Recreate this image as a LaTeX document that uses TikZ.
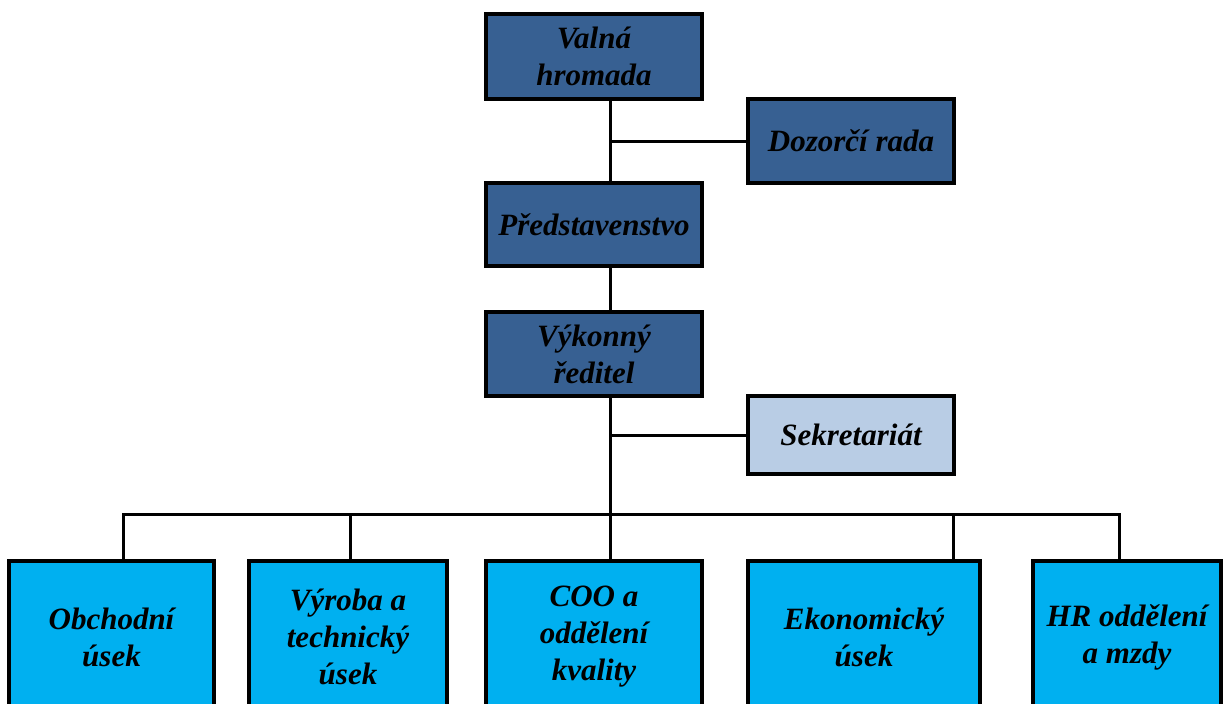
\documentclass[tikz,border=0pt]{standalone}
\usepackage{fontspec}
\setmainfont{Liberation Serif}
\definecolor{darkbox}{HTML}{376092}
\definecolor{lightbox}{HTML}{B9CDE5}
\definecolor{cyanbox}{HTML}{00B0F0}
\tikzset{
  orgbox/.style={draw=black, line width=3.2pt, rectangle, align=center, inner sep=2pt,
    font=\fontsize{31}{37}\selectfont\bfseries\itshape, text=black},
  topbox/.style={orgbox, fill=darkbox},
  secbox/.style={orgbox, fill=lightbox},
  depbox/.style={orgbox, fill=cyanbox, minimum height=152pt},
  conn/.style={draw=black, line width=3pt}
}
\begin{document}
\begin{tikzpicture}[x=1pt,y=-1pt]
\useasboundingbox (0,0) rectangle (1226,704);
\clip (0,0) rectangle (1226,704);
\fill[white] (0,0) rectangle (1226,704);
\coordinate (sp) at (610,0);
\coordinate (bus) at (0,514);
\coordinate (d1) at (123,0);
\coordinate (d2) at (350,0);
\coordinate (d4) at (953,0);
\coordinate (d5) at (1119,0);
\node[topbox, minimum width=216pt, minimum height=85pt] (valna) at (594,56.5) {Valná\\hromada};
\node[topbox, minimum width=206pt, minimum height=84pt] (dozor) at (851,141) {Dozorčí rada};
\node[topbox, minimum width=216pt, minimum height=83pt] (pred) at (594,224.5) {Představenstvo};
\node[topbox, minimum width=216pt, minimum height=84pt] (vyk) at (594,354) {Výkonný\\ředitel};
\node[secbox, minimum width=206pt, minimum height=78pt] (sekr) at (851,435) {Sekretariát};
\node[depbox, minimum width=205pt] (obch) at (111.5,637) {Obchodní\\úsek};
\node[depbox, minimum width=198pt] (vyr) at (348,637) {Výroba a\\technický\\úsek};
\node[depbox, minimum width=216pt] (coo) at (594,637) {COO a\\oddělení\\kvality};
\node[depbox, minimum width=232pt] (ekon) at (864,637) {Ekonomický\\úsek};
\node[depbox, minimum width=188pt] (hr) at (1127,637) {HR oddělení\\a mzdy};
\draw[conn] (valna.south -| sp) -- (pred.north -| sp);
\draw[conn] (dozor.west) -- (dozor.west -| sp);
\draw[conn] (pred.south -| sp) -- (vyk.north -| sp);
\draw[conn] (vyk.south -| sp) -- (coo.north -| sp);
\draw[conn] (sekr.west) -- (sekr.west -| sp);
\draw[conn] (obch.north -| d1) -- (bus -| d1) -- (bus -| d5) -- (hr.north -| d5);
\draw[conn] (vyr.north -| d2) -- (bus -| d2);
\draw[conn] (ekon.north -| d4) -- (bus -| d4);
\end{tikzpicture}
\end{document}
